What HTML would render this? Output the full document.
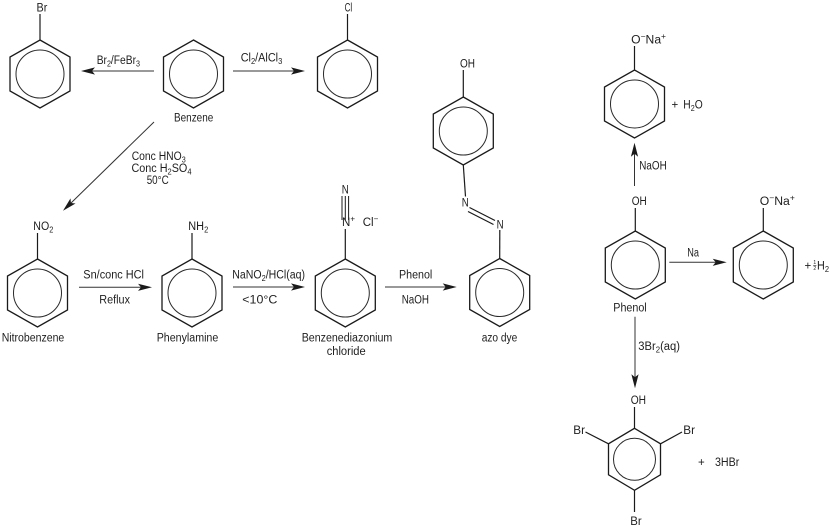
<!DOCTYPE html>
<html><head><meta charset="utf-8"><style>
html,body{margin:0;padding:0;background:#fff;}
svg{display:block;}
text{font-family:"Liberation Sans",sans-serif;font-size:11.5px;fill:#1e1e1e;}
.s{font-size:8px;}
</style></head><body>
<svg width="829" height="528" viewBox="0 0 829 528" xmlns="http://www.w3.org/2000/svg">
<defs>
<g id="ring">
<polygon points="0,-34 30,-17 30,17 0,34 -30,17 -30,-17" fill="none" stroke="#1a1a1a" stroke-width="1.3" stroke-linejoin="miter"/>
<circle cx="0" cy="0" r="24" fill="none" stroke="#2a2a2a" stroke-width="1"/>
</g>
<path id="ah" d="M0,0 L-14,-3.6 L-11,0 L-14,3.6Z" fill="#1a1a1a"/>
</defs>
<rect width="829" height="528" fill="#fff"/>

<!-- rings -->
<use href="#ring" x="40" y="74"/>
<use href="#ring" x="193.5" y="74"/>
<use href="#ring" x="347.5" y="74"/>
<use href="#ring" x="37.5" y="293"/>
<use href="#ring" x="192" y="293"/>
<use href="#ring" x="345.3" y="293"/>
<use href="#ring" x="463.3" y="131"/>
<use href="#ring" x="499.7" y="292.5"/>
<use href="#ring" x="634.5" y="104"/>
<use href="#ring" x="635.3" y="265"/>
<use href="#ring" x="763.3" y="265"/>
<polygon points="634.5,428.3 660.5,443.8 660.5,474.8 634.5,490.3 608.5,474.8 608.5,443.8" fill="none" stroke="#1a1a1a" stroke-width="1.3"/>
<circle cx="634.5" cy="459.3" r="21" fill="none" stroke="#2a2a2a" stroke-width="1"/>

<!-- bonds -->
<g stroke="#1a1a1a" stroke-width="1.2" fill="none">
<line x1="40" y1="14" x2="40" y2="40"/>
<line x1="347.5" y1="14" x2="347.5" y2="40"/>
<line x1="37.5" y1="233" x2="37.5" y2="259"/>
<line x1="192" y1="233" x2="192" y2="259"/>
<line x1="345.3" y1="229" x2="345.3" y2="259"/>
<line x1="342" y1="196" x2="342" y2="220" stroke-width="1"/>
<line x1="345.3" y1="196" x2="345.3" y2="220" stroke-width="1"/>
<line x1="348.6" y1="196" x2="348.6" y2="220" stroke-width="1"/>
<line x1="463.3" y1="70" x2="463.3" y2="97"/>
<line x1="463.3" y1="165" x2="465.5" y2="196.5"/>
<line x1="469.5" y1="207.5" x2="495" y2="220.5"/>
<line x1="468" y1="211.5" x2="493.5" y2="224.5"/>
<line x1="499.8" y1="230" x2="499.7" y2="258.5"/>
<line x1="634.5" y1="46" x2="634.5" y2="70"/>
<line x1="635.3" y1="208" x2="635.3" y2="231"/>
<line x1="763.3" y1="208" x2="763.3" y2="231"/>
<line x1="634.5" y1="407" x2="634.5" y2="428.3"/>
<line x1="634.5" y1="490.3" x2="634.5" y2="512"/>
<line x1="585.5" y1="432" x2="608.5" y2="443.8"/>
<line x1="660.5" y1="443.8" x2="682" y2="432"/>
</g>

<!-- arrows -->
<g stroke="#333" stroke-width="1" fill="none">
<line x1="154" y1="71" x2="90" y2="71"/>
<line x1="233" y1="71" x2="296" y2="71"/>
<line x1="154" y1="122" x2="70" y2="204"/>
<line x1="79" y1="287.3" x2="143" y2="287.3"/>
<line x1="233" y1="287" x2="296" y2="287"/>
<line x1="385" y1="287" x2="448" y2="287"/>
<line x1="634.5" y1="186" x2="634.5" y2="152"/>
<line x1="669.3" y1="262.3" x2="718" y2="262.3"/>
<line x1="635" y1="316.7" x2="635" y2="380"/>
</g>
<use href="#ah" transform="translate(81,71) rotate(180)"/>
<use href="#ah" transform="translate(305,71)"/>
<use href="#ah" transform="translate(63,210.7) rotate(135.7)"/>
<use href="#ah" transform="translate(152,287.3)"/>
<use href="#ah" transform="translate(305,287)"/>
<use href="#ah" transform="translate(456.7,287)"/>
<use href="#ah" transform="translate(634.5,142.7) rotate(-90)"/>
<use href="#ah" transform="translate(726.7,262.3)"/>
<use href="#ah" transform="translate(635,388.3) rotate(90)"/>

<!-- labels -->
<text x="36.5" y="11.7" textLength="10.8" lengthAdjust="spacingAndGlyphs">Br</text>
<text x="96.7" y="64" textLength="43.3" lengthAdjust="spacingAndGlyphs">Br<tspan class="s" dy="2.5">2</tspan><tspan dy="-2.5">/FeBr</tspan><tspan class="s" dy="2.5">3</tspan></text>
<text x="240.7" y="61.7" textLength="41.6" lengthAdjust="spacingAndGlyphs">Cl<tspan class="s" dy="2.5">2</tspan><tspan dy="-2.5">/AlCl</tspan><tspan class="s" dy="2.5">3</tspan></text>
<text x="344.6" y="11.7" textLength="7.6" lengthAdjust="spacingAndGlyphs">Cl</text>
<text x="174" y="121.7" textLength="39.3" lengthAdjust="spacingAndGlyphs">Benzene</text>
<text x="131.7" y="160" textLength="54" lengthAdjust="spacingAndGlyphs">Conc HNO<tspan class="s" dy="2.5">3</tspan></text>
<text x="131.5" y="172" textLength="60" lengthAdjust="spacingAndGlyphs">Conc H<tspan class="s" dy="2.5">2</tspan><tspan dy="-2.5">SO</tspan><tspan class="s" dy="2.5">4</tspan></text>
<text x="146.7" y="184" textLength="22" lengthAdjust="spacingAndGlyphs">50°C</text>

<text x="33.3" y="230" textLength="20" lengthAdjust="spacingAndGlyphs">NO<tspan class="s" dy="2.5">2</tspan></text>
<text x="83.3" y="278.3" textLength="60.7" lengthAdjust="spacingAndGlyphs">Sn/conc HCl</text>
<text x="99.3" y="303.3" textLength="30.7" lengthAdjust="spacingAndGlyphs">Reflux</text>
<text x="188.3" y="230" textLength="20" lengthAdjust="spacingAndGlyphs">NH<tspan class="s" dy="2.5">2</tspan></text>
<text x="232.3" y="278.3" textLength="72.7" lengthAdjust="spacingAndGlyphs">NaNO<tspan class="s" dy="2.5">2</tspan><tspan dy="-2.5">/HCl(aq)</tspan></text>
<text x="242.3" y="303.3" textLength="35" lengthAdjust="spacingAndGlyphs">&lt;10°C</text>
<text x="341.8" y="193.3" textLength="7" lengthAdjust="spacingAndGlyphs">N</text>
<text x="342" y="226">N<tspan class="s" dy="-4.5">+</tspan></text>
<text x="362.7" y="226">Cl<tspan class="s" dy="-4.5">−</tspan></text>
<text x="1.7" y="341.7" textLength="62.6" lengthAdjust="spacingAndGlyphs">Nitrobenzene</text>
<text x="156.7" y="341.7" textLength="61.6" lengthAdjust="spacingAndGlyphs">Phenylamine</text>
<text x="301.7" y="341.7" textLength="90.6" lengthAdjust="spacingAndGlyphs">Benzenediazonium</text>
<text x="326.7" y="355" textLength="39" lengthAdjust="spacingAndGlyphs">chloride</text>

<text x="460" y="67.3" textLength="15" lengthAdjust="spacingAndGlyphs">OH</text>
<text x="461.8" y="206.7" textLength="7" lengthAdjust="spacingAndGlyphs">N</text>
<text x="496.6" y="228.3" textLength="7" lengthAdjust="spacingAndGlyphs">N</text>
<text x="399" y="278.3" textLength="33.3" lengthAdjust="spacingAndGlyphs">Phenol</text>
<text x="401.7" y="303.3" textLength="27.3" lengthAdjust="spacingAndGlyphs">NaOH</text>
<text x="481.7" y="341.7" textLength="35.6" lengthAdjust="spacingAndGlyphs">azo dye</text>

<text x="631.2" y="43.3" textLength="34.8" lengthAdjust="spacingAndGlyphs">O<tspan class="s" dy="-4.5">−</tspan><tspan dy="4.5">Na</tspan><tspan class="s" dy="-4.5">+</tspan></text>
<text x="671.5" y="108.3">+</text>
<text x="683.3" y="108.3" textLength="19.4" lengthAdjust="spacingAndGlyphs">H<tspan class="s" dy="2.5">2</tspan><tspan dy="-2.5">O</tspan></text>
<text x="639.3" y="169.3" textLength="27.4" lengthAdjust="spacingAndGlyphs">NaOH</text>
<text x="631.7" y="205" textLength="15" lengthAdjust="spacingAndGlyphs">OH</text>
<text x="759.8" y="205" textLength="35" lengthAdjust="spacingAndGlyphs">O<tspan class="s" dy="-4.5">−</tspan><tspan dy="4.5">Na</tspan><tspan class="s" dy="-4.5">+</tspan></text>
<text x="687.3" y="256.7" textLength="11.7" lengthAdjust="spacingAndGlyphs">Na</text>
<text x="613.3" y="311.7" textLength="33.4" lengthAdjust="spacingAndGlyphs">Phenol</text>
<text x="638.3" y="350" textLength="41.7" lengthAdjust="spacingAndGlyphs">3Br<tspan class="s" dy="2.5">2</tspan><tspan dy="-2.5">(aq)</tspan></text>
<text x="804.5" y="269.5">+</text>
<text x="814.8" y="264" text-anchor="middle" style="font-size:5px">1</text>
<line x1="813.2" y1="265.3" x2="816.4" y2="265.3" stroke="#1e1e1e" stroke-width="0.6"/>
<text x="814.8" y="270" text-anchor="middle" style="font-size:5px">2</text>
<text x="817" y="269.5" textLength="12" lengthAdjust="spacingAndGlyphs">H<tspan class="s" dy="2.5">2</tspan></text>

<text x="630.7" y="404" textLength="15.3" lengthAdjust="spacingAndGlyphs">OH</text>
<text x="573.3" y="434" textLength="11.7" lengthAdjust="spacingAndGlyphs">Br</text>
<text x="683.3" y="434" textLength="11.7" lengthAdjust="spacingAndGlyphs">Br</text>
<text x="630.3" y="525" textLength="11.4" lengthAdjust="spacingAndGlyphs">Br</text>
<text x="698" y="466">+</text>
<text x="715" y="466" textLength="24.3" lengthAdjust="spacingAndGlyphs">3HBr</text>
</svg>
</body></html>
